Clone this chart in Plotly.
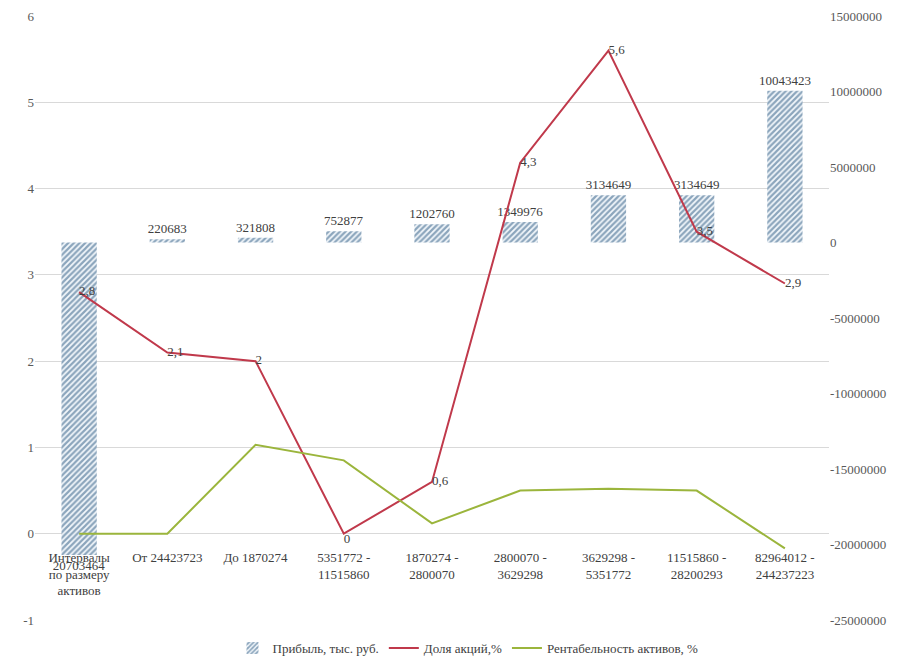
import plotly.graph_objects as go

categories = ["Интервалы<br>по размеру<br>активов", "От 24423723", "До 1870274",
              "5351772 -<br>11515860", "1870274 -<br>2800070", "2800070 -<br>3629298",
              "3629298 -<br>5351772", "11515860 -<br>28200293", "82964012 -<br>244237223"]
profit = [-20703464, 220683, 321808, 752877, 1202760, 1349976, 3134649, 3134649, 10043423]
shares = [2.8, 2.1, 2.0, 0.0, 0.6, 4.3, 5.6, 3.5, 2.9]
roa = [0.0, 0.0, 1.03, 0.85, 0.12, 0.5, 0.52, 0.5, -0.17]

left_ticks = [-1, 0, 1, 2, 3, 4, 5, 6]
left_labels = ["-1", "0", "1", "2", "3", "4", "5", "6"]
right_ticks = [-25000000, -20000000, -15000000, -10000000, -5000000, 0,
               5000000, 10000000, 15000000]
right_labels = ["-25000000", "-20000000", "-15000000", "-10000000", "-5000000", "0",
                "5000000", "10000000", "15000000"]

FONT = "Liberation Serif"
fig = go.Figure()

fig.add_trace(go.Bar(
    x=categories, y=profit, yaxis="y", name="Прибыль, тыс. руб.",
    width=0.4,
    marker=dict(color="#f4f8fc", line=dict(width=0),
                pattern=dict(shape="/", fgcolor="#22527c", size=4, solidity=0.55)),
    text=[str(v).lstrip("-") for v in profit], textposition="outside",
    constraintext="none",
    textfont=dict(family=FONT, size=13, color="#404040"),
    cliponaxis=False,
))
fig.add_trace(go.Scatter(
    x=categories, y=shares, yaxis="y2", name="Доля акций,%",
    mode="lines+text", line=dict(color="#c0394b", width=2),
    text=[f"{v:g}".replace(".", ",") for v in shares],
    textposition=["middle right"] * 3 + ["bottom right"] + ["middle right"] * 5,
    textfont=dict(family=FONT, size=13, color="#404040"),
    cliponaxis=False,
))
fig.add_trace(go.Scatter(
    x=categories, y=roa, yaxis="y2", name="Рентабельность активов, %",
    mode="lines", line=dict(color="#9bb53c", width=2),
))

fig.update_layout(
    width=913, height=661,
    margin=dict(l=35, r=84, t=16, b=41, autoexpand=False),
    paper_bgcolor="white", plot_bgcolor="white",
    font=dict(family=FONT, size=13, color="#404040"),
    xaxis=dict(anchor="free", position=(620 - 533) / 604, showline=False,
               ticks="outside", ticklen=12, tickcolor="rgba(0,0,0,0)",
               showgrid=False, tickfont=dict(family=FONT, size=13, color="#404040"),
               tickangle=0),
    yaxis=dict(range=[-25000000, 15000000], tickvals=right_ticks, ticktext=right_labels,
               side="right", showgrid=False, zeroline=False, showline=False,
               tickfont=dict(family=FONT, size=13, color="#595959"), domain=[0, 1]),
    yaxis2=dict(range=[-1, 6], tickvals=left_ticks, ticktext=left_labels,
                overlaying="y", side="left",
                showgrid=True, gridcolor="#d9d9d9", gridwidth=1,
                zeroline=False, showline=False, ticks="",
                tickfont=dict(family=FONT, size=13, color="#595959")),
    legend=dict(orientation="h", xref="container", yref="container",
                x=468 / 913, xanchor="center", y=1 - 648 / 661,
                yanchor="middle", font=dict(family=FONT, size=13, color="#404040"),
                bgcolor="rgba(0,0,0,0)"),
    showlegend=True,
)

fig.write_html("out.html")
